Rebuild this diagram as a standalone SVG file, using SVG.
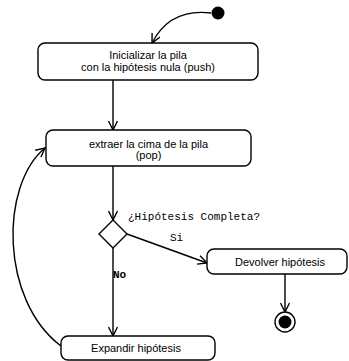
<svg xmlns="http://www.w3.org/2000/svg" width="349" height="361" viewBox="0 0 349 361">
<style>
.box{fill:#fff;stroke:#000;stroke-width:1.4}
.t{font-family:"Liberation Sans",Arial,sans-serif;font-size:11px;fill:#000;text-anchor:middle}
.m{font-family:"Liberation Mono","Courier New",monospace;font-size:11px;fill:#000}
.c{fill:none;stroke:#000;stroke-width:1.4}
</style>
<defs>
<marker id="arr" viewBox="0 0 11 10" refX="10" refY="5" markerWidth="11" markerHeight="10" markerUnits="userSpaceOnUse" orient="auto">
<path d="M1,0.5 L10,5 L1,9.5" fill="none" stroke="#000" stroke-width="1.4"/>
</marker>
</defs>
<rect width="349" height="361" fill="#fff"/>
<g id="connectors">
<path class="c" d="M211,13 Q170,8 152,43" marker-end="url(#arr)"/>
<path class="c" d="M113,80 L113,130" marker-end="url(#arr)"/>
<path class="c" d="M113,166 L113,220" marker-end="url(#arr)"/>
<path class="c" d="M127,234 L207,263" marker-end="url(#arr)"/>
<path class="c" d="M113,248 L113,336" marker-end="url(#arr)"/>
<path class="c" d="M285,274 L285,312" marker-end="url(#arr)"/>
<path class="c" d="M61,346 C0,300 0,185 45,148" marker-end="url(#arr)"/>
<text class="m" x="128" y="220">¿Hipótesis Completa?</text>
<text class="m" x="170" y="241">Si</text>
<text class="m" x="113" y="278" font-weight="bold">No</text>
</g>
<g id="start"><circle cx="218" cy="13" r="6.5" fill="#000"/></g>
<g id="init">
<rect class="box" x="38" y="43" width="220" height="37" rx="7"/>
<text class="t" x="148" y="59">Inicializar la pila</text>
<text class="t" x="148" y="71">con la hipótesis nula (push)</text>
</g>
<g id="pop">
<rect class="box" x="46" y="130" width="205" height="36" rx="7"/>
<text class="t" x="148.5" y="148">extraer la cima de la pila</text>
<text class="t" x="148.5" y="159">(pop)</text>
</g>
<g id="decision">
<path class="box" d="M113,220 L127,234 L113,248 L99,234 Z"/>
</g>
<g id="devolver">
<rect class="box" x="207" y="249" width="140" height="25" rx="7"/>
<text class="t" x="280" y="266">Devolver hipótesis</text>
</g>
<g id="expandir">
<rect class="box" x="61" y="336" width="154" height="24" rx="7"/>
<text class="t" x="136" y="352">Expandir hipótesis</text>
</g>
<g id="end">
<circle cx="285" cy="322" r="10" fill="#fff" stroke="#000" stroke-width="1.4"/>
<circle cx="285" cy="322" r="6.5" fill="#000"/>
</g>
</svg>
